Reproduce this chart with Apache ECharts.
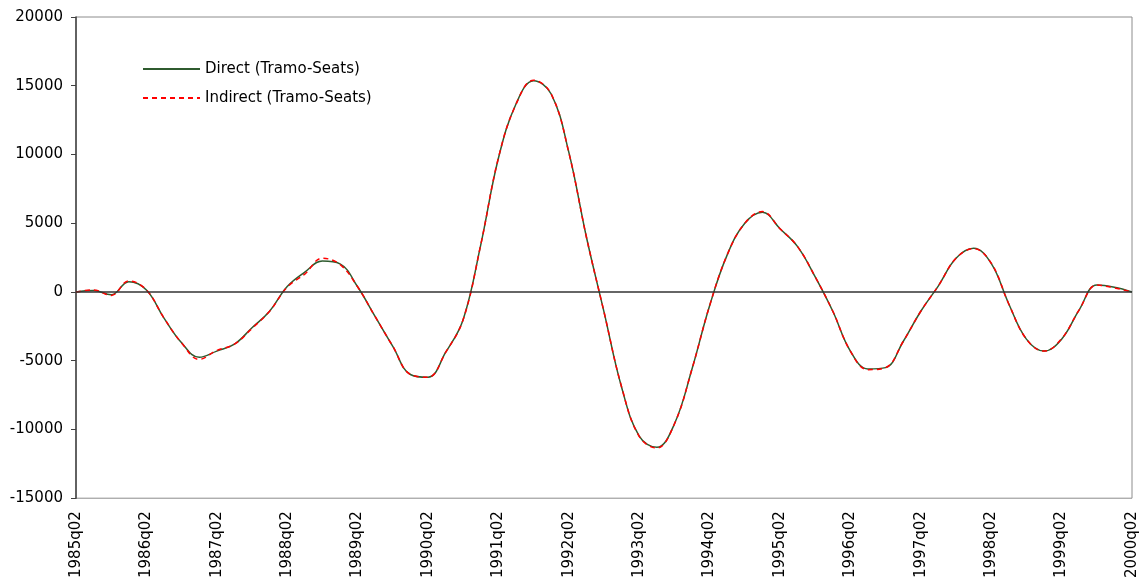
<!DOCTYPE html>
<html>
<head>
<meta charset="utf-8">
<title>Direct vs Indirect (Tramo-Seats)</title>
<script src="https://cdn.jsdelivr.net/npm/echarts@6/dist/echarts.min.js"></script>
<style>
  html, body { margin: 0; padding: 0; background: #ffffff; }
  #chart { width: 1141px; height: 581px; }
</style>
</head>
<body>
<div id="chart"></div>
<script>
// Quarterly periods 1985q02 .. 2000q02
const firstYear = 1985;
const lastYear = 2000;
const quarters = [];
for (let y = firstYear; y <= lastYear; y++) {
  for (let q = 1; q <= 4; q++) {
    if ((y === firstYear && q < 2) || (y === lastYear && q > 2)) continue;
    quarters.push(y + 'q0' + q);
  }
}

const directSeries = [
  0, 100, -200, 750, 150, -1900, -3700, -4750, -4300, -3800,
  -2600, -1400, 400, 1450, 2250, 2050, 380, -1800, -3960, -6000,
  -6200, -4400, -2000, 3450, 9730, 13670, 15360, 14400, 10170, 4000,
  -1450, -6930, -10480, -11300, -9600, -5600, -1000, 2700, 5000, 5800,
  4600, 3300, 1100, -1400, -4300, -5600, -5500, -3600, -1400, 450,
  2450, 3180, 2080, -870, -3430, -4300, -3430, -1300, 500, 340,
  0
];

const indirectSeries = [
  0, 150, -250, 800, 150, -1900, -3700, -4900, -4250, -3800,
  -2650, -1400, 350, 1300, 2450, 2000, 380, -1800, -3950, -6000,
  -6200, -4400, -2000, 3450, 9750, 13650, 15400, 14400, 10150, 4000,
  -1450, -6900, -10500, -11350, -9600, -5600, -1000, 2700, 5000, 5850,
  4600, 3300, 1100, -1400, -4300, -5650, -5500, -3600, -1400, 450,
  2450, 3150, 2100, -870, -3430, -4300, -3400, -1300, 500, 300,
  0
];

const yTicks = { min: -15000, max: 20000, step: 5000 };

const chart = echarts.init(document.getElementById('chart'), null, { renderer: 'canvas' });

const fontFamily = '"DejaVu Sans", sans-serif';
const greenLine = '#2f5b2f';
const redLine = '#ff0000';

chart.setOption({
  animation: false,
  backgroundColor: '#ffffff',
  grid: {
    left: 76, right: 9, top: 17, bottom: 82,
    show: true, borderColor: '#8c8c8c', borderWidth: 1,
    containLabel: false
  },
  legend: {
    orient: 'vertical',
    left: 137, top: 56,
    itemWidth: 57, itemHeight: 16, itemGap: 13,
    itemStyle: { opacity: 0 },
    textStyle: { fontFamily, fontSize: 15, color: '#000', lineHeight: 16 },
    data: ['Direct (Tramo-Seats)', 'Indirect (Tramo-Seats)']
  },
  xAxis: {
    type: 'category',
    data: quarters,
    boundaryGap: false,
    axisLine: { show: false },
    axisTick: { show: false },
    axisLabel: {
      interval: 3, rotate: 90, margin: 13,
      fontFamily, fontSize: 15, color: '#000'
    },
    splitLine: { show: false }
  },
  yAxis: {
    type: 'value',
    min: yTicks.min, max: yTicks.max, interval: yTicks.step,
    axisLine: { show: true, lineStyle: { color: '#404040', width: 1.5 } },
    axisTick: { show: true, inside: false, length: 5, lineStyle: { color: '#404040' } },
    axisLabel: {
      fontFamily, fontSize: 15, color: '#000', margin: 13,
      formatter: (v) => String(v)
    },
    splitLine: { show: false }
  },
  series: [
    {
      name: 'Direct (Tramo-Seats)',
      type: 'line',
      data: directSeries,
      smooth: 0.4,
      showSymbol: false,
      symbol: 'none',
      lineStyle: { color: greenLine, width: 1.5, type: 'solid' },
      itemStyle: { color: greenLine },
      z: 3,
      markLine: {
        silent: true,
        symbol: 'none',
        label: { show: false },
        lineStyle: { color: '#333333', width: 1.5, type: 'solid' },
        data: [{ yAxis: 0 }]
      }
    },
    {
      name: 'Indirect (Tramo-Seats)',
      type: 'line',
      data: indirectSeries,
      smooth: 0.4,
      showSymbol: false,
      symbol: 'none',
      lineStyle: { color: redLine, width: 1.5, type: [5, 4] },
      itemStyle: { color: redLine },
      z: 4
    }
  ]
});
</script>
</body>
</html>
